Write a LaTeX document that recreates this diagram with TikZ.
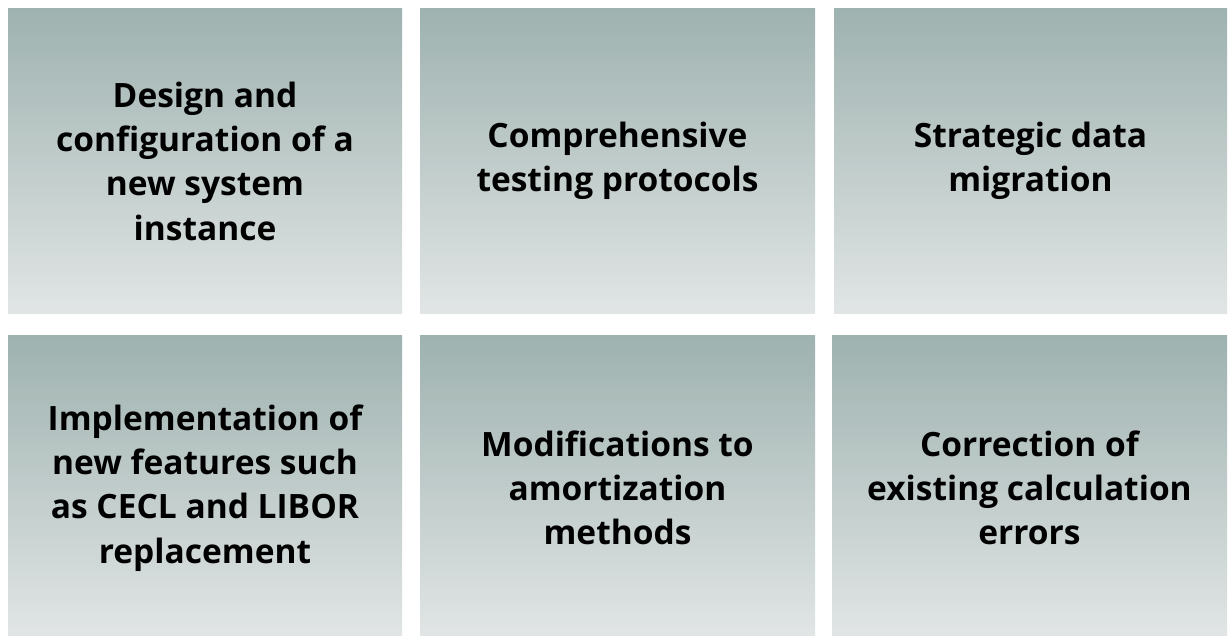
\documentclass[tikz,border=0pt]{standalone}
\usepackage{fontspec}
\setmainfont{Open Sans}[Ligatures=NoCommon]
\definecolor{topc}{RGB}{158,178,175}
\definecolor{botc}{RGB}{225,229,229}
\begin{document}
\begin{tikzpicture}[x=1pt,y=-1pt,
  card/.style={top color=topc,bottom color=botc,draw=none},
  lbl/.style={align=center,font=\fontsize{33.5}{44.3}\selectfont\bfseries,text=black,inner sep=0pt}]
\useasboundingbox[fill=white] (0,0) rectangle (1229,636);
\shade[card] (8,9) rectangle (402,314);
\shade[card] (420,9) rectangle (815,314);
\shade[card] (834,9) rectangle (1227,314);
\shade[card] (8,336) rectangle (402,636);
\shade[card] (420,336) rectangle (815,636);
\shade[card] (832,336) rectangle (1227,636);
\node[lbl] (t1) at (205,161) {Design and\\configuration of a\\new system\\instance};
\node[lbl] (t2) at (617.5,161) {Comprehensive\\testing protocols};
\node[lbl] (t3) at (1030.5,161) {Strategic data\\migration};
\node[lbl] (t4) at (205,488) {Implementation of\\new features such\\as CECL and LIBOR\\replacement};
\node[lbl] (t5) at (617.5,488) {Modifications to\\amortization\\methods};
\node[lbl] (t6) at (1029.5,488) {Correction of\\existing calculation\\errors};
\end{tikzpicture}
\end{document}
